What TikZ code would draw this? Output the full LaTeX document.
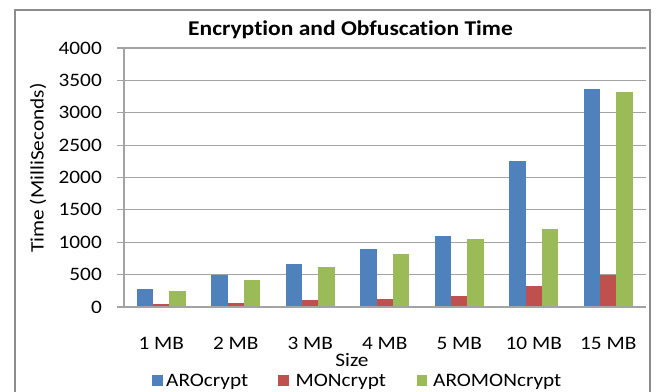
\documentclass[tikz,border=0pt]{standalone}
\usepackage{fontspec}
\setmainfont{Carlito}[FakeStretch=1.12, Ligatures=NoCommon]

\definecolor{arocrypt}{HTML}{4F81BD}
\definecolor{moncrypt}{HTML}{C0504D}
\definecolor{aromoncrypt}{HTML}{9BBB59}
\definecolor{gridgray}{HTML}{A3A3A3}
\definecolor{framegray}{HTML}{8C8C8C}

\tikzset{
	chartlabel/.style = {font=\fontsize{19}{19}\selectfont, inner sep=0pt},
	charttitle/.style = {font=\fontsize{21}{21}\selectfont\bfseries, inner sep=0pt},
	gridline/.style = {draw=gridgray, line width=1.2pt},
	legendkey/.style = {inner sep=0pt, minimum size=10.5pt, anchor=south west},
}

\begin{document}
\begin{tikzpicture}[x=1pt, y=1pt]
	\useasboundingbox (-124,-84) rectangle (532,307);
	\draw[framegray, line width=2.5pt] (-109,-100) rectangle (526,297);

	\node[charttitle, anchor=base] (title) at (226.5,271) {Encryption and Obfuscation Time};

	\begin{scope}[x=74.5pt, y=0.06475pt]
		\foreach \val in {500,1000,...,4000} {
			\draw[gridline] (-7pt,\val) -- (7,\val);
		}
		\foreach \val in {0,500,...,4000} {
			\node[chartlabel, anchor=east] (ytick\val) at (-22pt,\val) {\val};
		}

		\fill[arocrypt] (0.171,0) rectangle (0.39,280);
		\fill[moncrypt] (0.39,0) rectangle (0.61,50);
		\fill[aromoncrypt] (0.61,0) rectangle (0.829,240);

		\fill[arocrypt] (1.171,0) rectangle (1.39,490);
		\fill[moncrypt] (1.39,0) rectangle (1.61,60);
		\fill[aromoncrypt] (1.61,0) rectangle (1.829,420);

		\fill[arocrypt] (2.171,0) rectangle (2.39,660);
		\fill[moncrypt] (2.39,0) rectangle (2.61,110);
		\fill[aromoncrypt] (2.61,0) rectangle (2.829,620);

		\fill[arocrypt] (3.171,0) rectangle (3.39,900);
		\fill[moncrypt] (3.39,0) rectangle (3.61,120);
		\fill[aromoncrypt] (3.61,0) rectangle (3.829,820);

		\fill[arocrypt] (4.171,0) rectangle (4.39,1100);
		\fill[moncrypt] (4.39,0) rectangle (4.61,170);
		\fill[aromoncrypt] (4.61,0) rectangle (4.829,1050);

		\fill[arocrypt] (5.171,0) rectangle (5.39,2250);
		\fill[moncrypt] (5.39,0) rectangle (5.61,320);
		\fill[aromoncrypt] (5.61,0) rectangle (5.829,1200);

		\fill[arocrypt] (6.171,0) rectangle (6.39,3370);
		\fill[moncrypt] (6.39,0) rectangle (6.61,490);
		\fill[aromoncrypt] (6.61,0) rectangle (6.829,3320);

		\draw[gridline] (-7pt,0) -- (7,0);
		\draw[gridline] (0,0) -- (0,4000);

		\node[chartlabel, anchor=base] (size1) at (0.5,-42pt) {1 MB};
		\node[chartlabel, anchor=base] (size2) at (1.5,-42pt) {2 MB};
		\node[chartlabel, anchor=base] (size3) at (2.5,-42pt) {3 MB};
		\node[chartlabel, anchor=base] (size4) at (3.5,-42pt) {4 MB};
		\node[chartlabel, anchor=base] (size5) at (4.5,-42pt) {5 MB};
		\node[chartlabel, anchor=base] (size10) at (5.5,-42pt) {10 MB};
		\node[chartlabel, anchor=base] (size15) at (6.5,-42pt) {15 MB};
	\end{scope}

	\node[chartlabel, anchor=base] (xtitle) at (228,-59) {Size};
	\node[chartlabel, rotate=90] (ytitle) at (-86,139) {Time (MilliSeconds)};

	\node[legendkey, fill=arocrypt] (arokey) at (28,-79) {};
	\node[chartlabel, anchor=base west] (arotext) at (42,-79) {AROcrypt};
	\node[legendkey, fill=moncrypt] (monkey) at (154,-79) {};
	\node[chartlabel, anchor=base west] (montext) at (171.5,-79) {MONcrypt};
	\node[legendkey, fill=aromoncrypt] (aromonkey) at (292.5,-79) {};
	\node[chartlabel, anchor=base west] (aromontext) at (309,-79) {AROMONcrypt};
\end{tikzpicture}
\end{document}
